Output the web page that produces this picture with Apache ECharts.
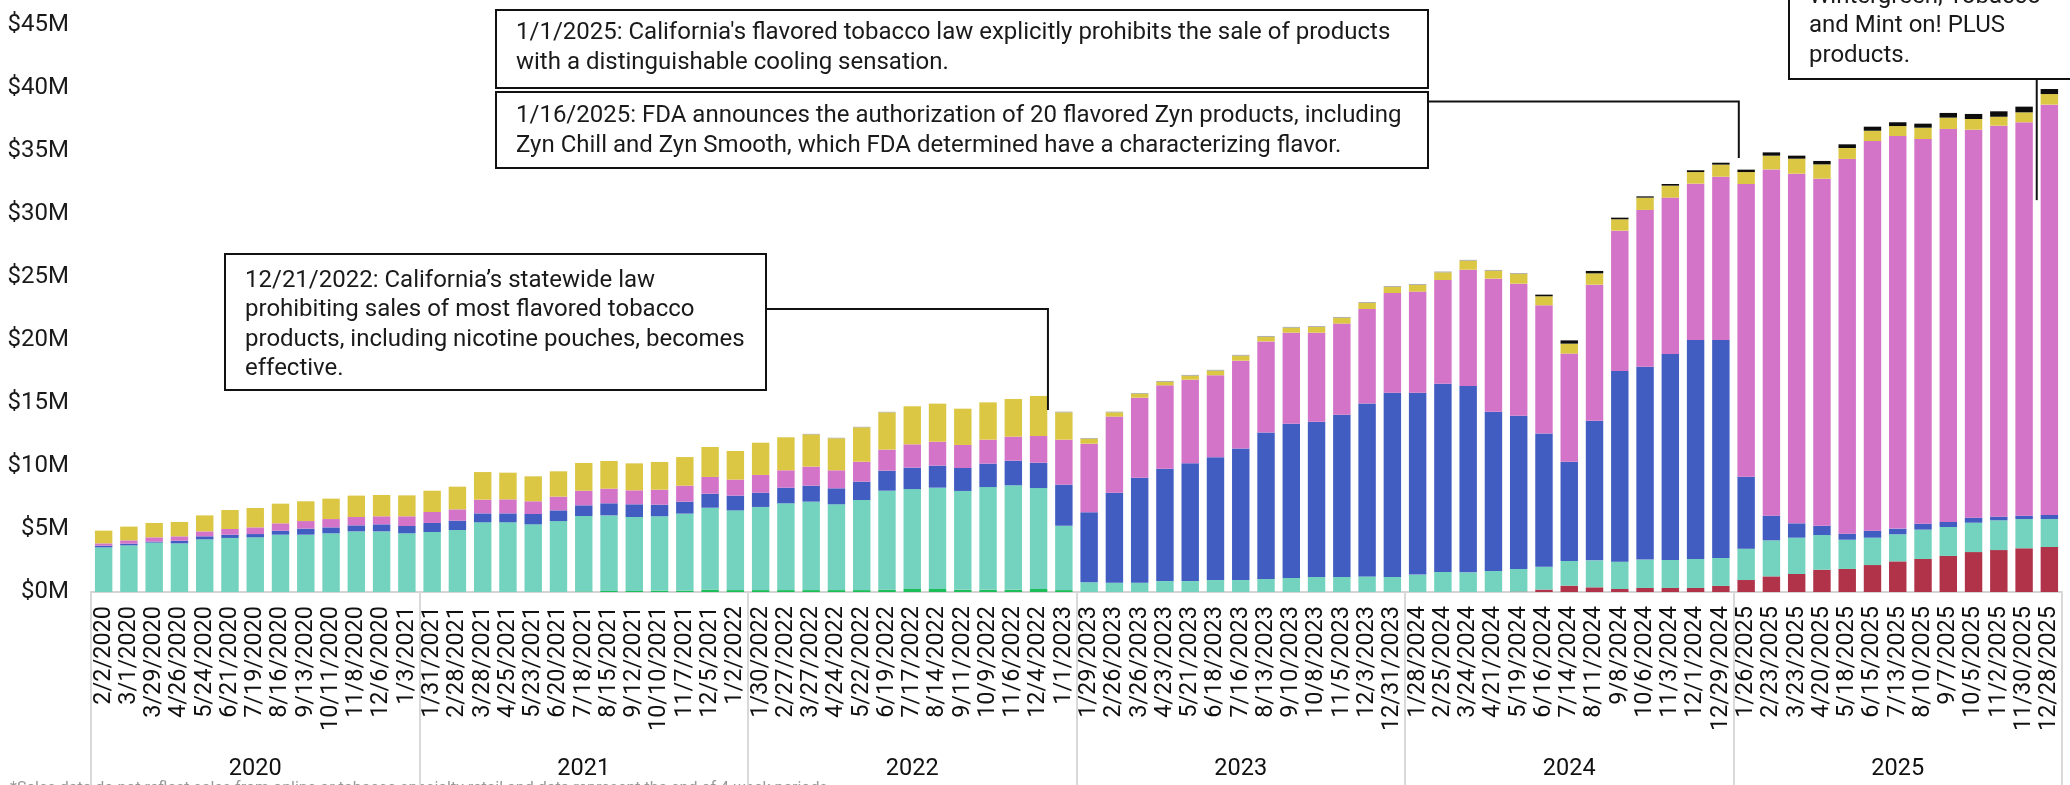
<!DOCTYPE html>
<html><head><meta charset="utf-8">
<script src="https://cdn.jsdelivr.net/npm/echarts@6/dist/echarts.min.js"></script>
<style>html,body{margin:0;padding:0;background:#fff}#c{width:2070px;height:785px}</style>
</head><body><div id="c"></div>
<script>
const periods = [
 '2/2/2020','3/1/2020','3/29/2020','4/26/2020','5/24/2020','6/21/2020','7/19/2020','8/16/2020','9/13/2020','10/11/2020','11/8/2020','12/6/2020','1/3/2021',
 '1/31/2021','2/28/2021','3/28/2021','4/25/2021','5/23/2021','6/20/2021','7/18/2021','8/15/2021','9/12/2021','10/10/2021','11/7/2021','12/5/2021','1/2/2022',
 '1/30/2022','2/27/2022','3/27/2022','4/24/2022','5/22/2022','6/19/2022','7/17/2022','8/14/2022','9/11/2022','10/9/2022','11/6/2022','12/4/2022','1/1/2023',
 '1/29/2023','2/26/2023','3/26/2023','4/23/2023','5/21/2023','6/18/2023','7/16/2023','8/13/2023','9/10/2023','10/8/2023','11/5/2023','12/3/2023','12/31/2023',
 '1/28/2024','2/25/2024','3/24/2024','4/21/2024','5/19/2024','6/16/2024','7/14/2024','8/11/2024','9/8/2024','10/6/2024','11/3/2024','12/1/2024','12/29/2024',
 '1/26/2025','2/23/2025','3/23/2025','4/20/2025','5/18/2025','6/15/2025','7/13/2025','8/10/2025','9/7/2025','10/5/2025','11/2/2025','11/30/2025','12/28/2025'
];
const years = ['2020','2021','2022','2023','2024','2025'];
const yTicks = [0,5,10,15,20,25,30,35,40,45];

// Sales, $M, stacked bottom to top
const red = [
 0,0,0,0,0,0,0,0,0,0,0,0,0,
 0,0,0,0,0,0,0,0,0,0,0,0,0,
 0,0,0,0,0,0,0,0,0,0,0,0,0,
 0,0,0,0,0,0,0,0,0,0,0,0,0,
 0,0,0,0,0.03,0.19,0.50,0.37,0.24,0.32,0.32,0.32,0.48,
 0.95,1.24,1.43,1.77,1.83,2.14,2.43,2.62,2.86,3.17,3.33,3.47,3.57
];
const green = [
 0,0,0,0,0,0,0,0,0,0,0,0,0,
 0,0,0,0,0,0,0.04,0.08,0.08,0.10,0.10,0.18,0.15,
 0.15,0.15,0.15,0.15,0.15,0.18,0.24,0.24,0.17,0.17,0.17,0.24,0.15,
 0,0,0,0,0,0,0,0,0,0,0,0,0,
 0,0,0,0,0,0,0,0,0,0,0,0,0,
 0,0,0,0,0,0,0,0,0,0,0,0,0
];
const teal = [
 3.54,3.70,3.92,3.86,4.18,4.29,4.34,4.55,4.55,4.66,4.81,4.81,4.66,
 4.76,4.92,5.53,5.53,5.37,5.63,5.99,6.00,5.87,5.91,6.12,6.51,6.33,
 6.60,6.89,7.02,6.81,7.15,7.86,7.93,8.04,7.85,8.16,8.30,8.01,5.11,
 0.77,0.74,0.74,0.87,0.87,0.95,0.95,1.03,1.11,1.19,1.19,1.24,1.19,
 1.38,1.59,1.56,1.67,1.80,1.82,1.96,2.14,2.17,2.25,2.22,2.30,2.22,
 2.49,2.86,2.88,2.75,2.32,2.17,2.15,2.33,2.30,2.33,2.36,2.32,2.22
];
const blue = [
 0.14,0.14,0.08,0.21,0.24,0.26,0.26,0.32,0.48,0.47,0.48,0.56,0.58,
 0.72,0.74,0.71,0.71,0.82,0.85,0.85,0.96,1.01,0.92,0.95,1.11,1.17,
 1.13,1.24,1.27,1.27,1.46,1.59,1.70,1.75,1.82,1.86,1.95,2.01,3.26,
 5.55,7.14,8.33,8.92,9.34,9.74,10.43,11.62,12.25,12.33,12.88,13.73,14.63,
 14.44,14.94,14.79,12.64,12.16,10.56,7.87,11.09,15.13,15.31,16.35,17.38,17.30,
 5.71,1.96,1.14,0.74,0.48,0.56,0.45,0.47,0.40,0.40,0.29,0.27,0.32
];
const pink = [
 0.18,0.26,0.34,0.35,0.39,0.45,0.53,0.58,0.60,0.66,0.66,0.64,0.77,
 0.87,0.90,1.09,1.11,1.01,1.09,1.16,1.16,1.11,1.19,1.27,1.33,1.27,
 1.41,1.38,1.51,1.43,1.58,1.67,1.85,1.90,1.83,1.90,1.91,2.12,3.57,
 5.45,6.04,6.35,6.61,6.64,6.51,6.98,7.24,7.22,7.06,7.23,7.49,7.91,
 8.02,8.23,9.23,10.56,10.48,10.18,8.59,10.79,11.14,12.44,12.41,12.41,12.96,
 23.23,27.48,27.75,27.54,29.74,30.92,31.16,30.53,31.19,30.79,31.03,31.22,32.57
];
const yellow = [
 1.01,1.09,1.14,1.14,1.27,1.51,1.54,1.56,1.57,1.62,1.70,1.69,1.66,
 1.69,1.80,2.19,2.12,1.98,2.01,2.20,2.20,2.14,2.20,2.27,2.38,2.27,
 2.56,2.62,2.56,2.54,2.73,2.96,3.02,3.02,2.88,2.96,2.99,3.18,2.17,
 0.40,0.34,0.32,0.29,0.32,0.37,0.40,0.37,0.40,0.45,0.47,0.48,0.48,
 0.53,0.61,0.72,0.63,0.77,0.72,0.79,0.90,0.90,0.98,0.95,0.92,0.96,
 0.95,1.09,1.19,1.14,0.87,0.82,0.79,0.90,0.90,0.85,0.71,0.79,0.84
];
const gray = [
 0,0,0,0,0,0,0,0,0,0,0,0,0,
 0,0,0,0,0,0,0,0,0,0,0,0,0,
 0,0,0.04,0.04,0.04,0.04,0,0,0,0,0,0,0.05,
 0.05,0.05,0.05,0.06,0.06,0.06,0.06,0.06,0.06,0.06,0.06,0.06,0.06,
 0.06,0.06,0.06,0.06,0.06,0,0,0,0,0,0,0,0,
 0,0,0,0,0,0,0,0,0,0,0,0,0
];
const black = [
 0,0,0,0,0,0,0,0,0,0,0,0,0,
 0,0,0,0,0,0,0,0,0,0,0,0,0,
 0,0,0,0,0,0,0,0,0,0,0,0,0,
 0,0,0,0,0,0,0,0,0,0,0,0,0,
 0,0,0,0,0,0.13,0.26,0.19,0.13,0.10,0.13,0.14,0.15,
 0.19,0.26,0.24,0.27,0.29,0.32,0.30,0.32,0.37,0.40,0.43,0.45,0.40
];

const seriesDefs = [
 ['red', red, '#b0334a'],
 ['green', green, '#1dbd5a'],
 ['teal', teal, '#74d3be'],
 ['blue', blue, '#415dc2'],
 ['pink', pink, '#d474c9'],
 ['yellow', yellow, '#dcc745'],
 ['gray', gray, '#9a9a9a'],
 ['black', black, '#0d0d0d']
];

const note1 = ['12/21/2022: California\u2019s statewide law','prohibiting sales of most flavored tobacco','products, including nicotine pouches, becomes','effective.'];
const note2 = ["1/1/2025: California's flavored tobacco law explicitly prohibits the sale of products",'with a distinguishable cooling sensation.'];
const note3 = ['1/16/2025: FDA announces the authorization of 20 flavored Zyn products, including','Zyn Chill and Zyn Smooth, which FDA determined have a characterizing flavor.'];
const note4 = ['Wintergreen, Tobacco','and Mint on! PLUS','products.'];
const footnote = '*Sales data do not reflect sales from online or tobacco specialty retail and data represent the end of 4-week periods.';

const FONT = 'Roboto, "Noto Sans", sans-serif';
const chart = echarts.init(document.getElementById('c'), null, {renderer:'canvas'});
chart.setOption({
  animation:false,
  textStyle:{fontFamily:FONT},
  grid:{left:91,right:8,top:25,bottom:193,containLabel:false},
  yAxis:{type:'value',min:0,max:45,interval:5,
    axisLine:{show:false},axisTick:{show:false},splitLine:{show:false},
    axisLabel:{formatter:v=>'$'+v+'M',fontSize:24,color:'#1a1a1a',margin:22,fontFamily:FONT}},
  xAxis:[
    {type:'category',data:periods,position:'bottom',
     axisLine:{lineStyle:{color:'#d4d4d4',width:2}},axisTick:{show:false},
     axisLabel:{rotate:90,interval:0,fontSize:23.5,color:'#111',margin:14,fontFamily:FONT}},
    {type:'category',data:years,position:'bottom',
     axisLine:{show:false},
     axisTick:{show:true,length:200,lineStyle:{color:'#d9d9d9',width:2}},
     axisLabel:{fontSize:23.5,color:'#111',margin:165,fontFamily:FONT}}
  ],
  series:seriesDefs.map(([n,d,c])=>({name:n,type:'bar',stack:'s',data:d,barCategoryGap:'31%',
     itemStyle:{color:c},emphasis:{disabled:true}}))
});

const x0 = chart.convertToPixel({xAxisIndex:0},0);
const bw = chart.convertToPixel({xAxisIndex:0},1) - x0;
const xAt = p => x0 + p*bw;
const yAt = v => chart.convertToPixel({yAxisIndex:0},v);

function box(x,y,w,h,lines,tx,ty,lh){
  return [
   {type:'rect',shape:{x,y,width:w,height:h},style:{fill:'#fff',stroke:'#111',lineWidth:2},z:10},
   {type:'text',x:tx,y:ty,style:{text:lines.join('\n'),font:'24px '+FONT,fill:'#1a1a1a',lineHeight:lh,verticalAlign:'top'},z:11}
  ];
}
function leader(pts){
  return {type:'polyline',shape:{points:pts},style:{stroke:'#111',lineWidth:2,fill:null},z:9};
}
const l1x = xAt(37.37), l3x = xAt(64.71), l4x = xAt(76.5);
chart.setOption({graphic:[
  ...box(225,254,541,136,note1,245,266,29.5),
  leader([[766,309],[l1x,309],[l1x,yAt(14.44)]]),
  ...box(496,10,932,78,note2,516,18,30),
  ...box(496,92,932,76,note3,516,101,30),
  leader([[1428,101.5],[l3x,101.5],[l3x,yAt(34.44)]]),
  ...box(1789,-40,330,119,note4,1809,-18,29.5),
  leader([[l4x,79],[l4x,yAt(31.1)]]),
  {type:'text',x:10,y:781,style:{text:footnote,font:'16px '+FONT,fill:'#999'}}
]});
</script></body></html>
